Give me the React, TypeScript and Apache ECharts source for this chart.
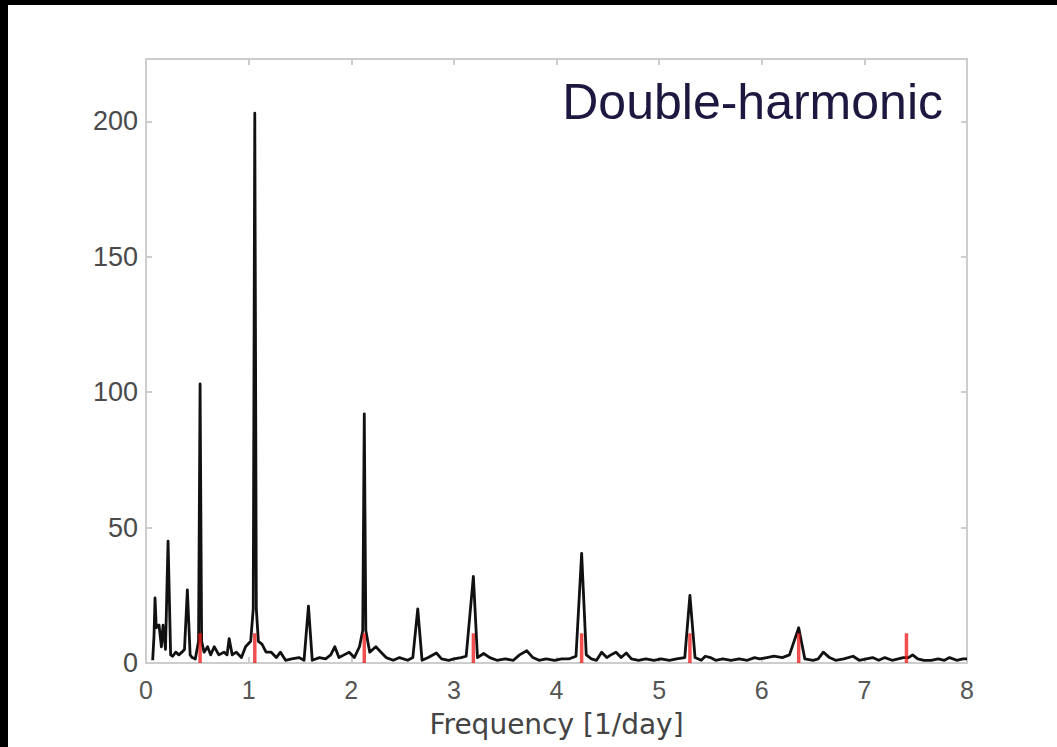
import React, { useEffect, useRef } from "react";
import * as echarts from "echarts";

// Periodogram (frequency in 1/day, power)
const freq: number[] = [
  0.065, 0.078, 0.088, 0.1, 0.127, 0.15, 0.166, 0.19, 0.215, 0.24,
  0.26, 0.29, 0.32, 0.35, 0.375, 0.403, 0.43, 0.45, 0.48, 0.512, 0.527, 0.542,
  0.566, 0.6, 0.63, 0.665, 0.71, 0.76, 0.79, 0.81, 0.84, 0.88, 0.93, 0.97,
  1.02, 1.045, 1.06, 1.075, 1.095, 1.13, 1.17, 1.22, 1.27, 1.31, 1.36, 1.42,
  1.49, 1.54, 1.583, 1.62, 1.69, 1.75, 1.8, 1.84, 1.88, 1.93, 1.98, 2.03,
  2.08, 2.112, 2.127, 2.142, 2.18, 2.24, 2.29, 2.34, 2.41, 2.47, 2.55, 2.6,
  2.648, 2.69, 2.75, 2.83, 2.88, 2.95, 3.0, 3.07, 3.12, 3.19, 3.23, 3.29,
  3.35, 3.42, 3.5, 3.58, 3.64, 3.71, 3.77, 3.83, 3.9, 3.98, 4.05, 4.12,
  4.19, 4.245, 4.29, 4.34, 4.39, 4.44, 4.49, 4.53, 4.58, 4.63, 4.68, 4.73,
  4.8, 4.87, 4.95, 5.02, 5.1, 5.17, 5.25, 5.3, 5.35, 5.41, 5.45, 5.5,
  5.55, 5.62, 5.7, 5.78, 5.86, 5.93, 5.98, 6.05, 6.12, 6.2, 6.27, 6.36,
  6.42, 6.5, 6.55, 6.6, 6.66, 6.72, 6.8, 6.89, 6.95, 7.02, 7.08, 7.14,
  7.2, 7.27, 7.33, 7.38, 7.43, 7.47, 7.52, 7.58, 7.65, 7.72, 7.78, 7.83,
  7.9, 7.96, 8.0,
];
const power: number[] = [
  1, 10, 24, 13, 14, 6, 14, 5, 45, 3,
  2.5, 4, 3, 4, 5, 27, 3, 2, 1.5, 8, 103, 8,
  4, 6, 3, 6, 3, 4, 3, 9, 3, 4, 2, 6,
  8, 20, 203, 20, 8, 7, 4, 4, 2, 4, 1, 1.5,
  2, 1, 21, 1, 2, 1.5, 3, 6, 2, 3, 4, 2,
  6, 12, 92, 12, 4, 6, 4, 2, 1, 2, 1, 2,
  20, 1, 2, 3.7, 1.5, 1, 1.5, 2, 2.5, 32, 2, 3.5,
  2, 1, 1.5, 1, 3, 4.5, 2, 1, 1.5, 1, 1.5, 1.5,
  2.5, 40.5, 3, 1.5, 1, 4, 2, 3, 4, 2, 3.7, 1.5,
  1, 1.5, 1, 1.5, 1, 1.5, 2, 25, 2, 1, 2.5, 2,
  1, 1.5, 1, 1.5, 1, 2, 1.5, 2, 2.5, 2, 3, 13,
  1.5, 1, 1.5, 4, 2, 1, 1.5, 2.5, 1, 1.5, 2, 1,
  2, 1, 1.5, 2, 2, 3, 1.5, 1, 1, 1.5, 1, 2,
  1, 1.5, 1.5,
];

// Harmonic markers (red)
const harmonicFreq: number[] = [0.527, 1.06, 2.127, 3.19, 4.245, 5.3, 6.36, 7.41];
const harmonicHeight: number[] = [11, 11, 11, 11, 11, 11, 11, 11];

const xTicks: number[] = [0, 1, 2, 3, 4, 5, 6, 7, 8];
const yTicks: number[] = [0, 50, 100, 150, 200];

const FONT = "'Liberation Sans', Arial, Helvetica, sans-serif";

export default function App() {
  const ref = useRef<HTMLDivElement>(null);

  useEffect(() => {
    if (!ref.current) return;
    const chart = echarts.init(ref.current, undefined, { renderer: "svg" });

    const lineData = freq.map((f, i) => [f, power[i]]);
    const redData: any[] = [];
    harmonicFreq.forEach((f, i) => {
      redData.push([f, 0]);
      redData.push([f, harmonicHeight[i]]);
      redData.push([f, "-"]);
    });

    const frameColor = "#cdcdcd";
    const frameLine = { show: true, onZero: false, lineStyle: { color: frameColor, width: 2 } };
    const frameTick = { show: true, inside: true, length: 6, lineStyle: { color: frameColor, width: 2 } };

    chart.setOption({
      animation: false,
      backgroundColor: "#ffffff",
      grid: { left: 146, right: 90, top: 59, bottom: 84, containLabel: false },
      xAxis: [
        {
          type: "value",
          min: 0,
          max: 8,
          interval: 1,
          position: "bottom",
          name: "Frequency [1/day]",
          nameLocation: "middle",
          nameGap: 47,
          nameTextStyle: { fontFamily: "'DejaVu Sans', sans-serif", fontSize: 28, color: "#444" },
          axisLine: frameLine,
          axisTick: frameTick,
          axisLabel: {
            margin: 14,
            fontFamily: FONT,
            fontSize: 25,
            color: "#555",
            formatter: (v: number) => (xTicks.includes(v) ? String(v) : ""),
          },
          splitLine: { show: false },
        },
        {
          type: "value",
          min: 0,
          max: 8,
          interval: 1,
          position: "top",
          axisLine: frameLine,
          axisTick: frameTick,
          axisLabel: { show: false },
          splitLine: { show: false },
        },
      ],
      yAxis: [
        {
          type: "value",
          min: 0,
          max: 223,
          interval: 50,
          position: "left",
          axisLine: frameLine,
          axisTick: frameTick,
          axisLabel: {
            margin: 8,
            fontFamily: FONT,
            fontSize: 27,
            color: "#4a4a4a",
            formatter: (v: number) => (yTicks.includes(v) ? String(v) : ""),
          },
          splitLine: { show: false },
        },
        {
          type: "value",
          min: 0,
          max: 223,
          interval: 50,
          position: "right",
          axisLine: frameLine,
          axisTick: frameTick,
          axisLabel: { show: false },
          splitLine: { show: false },
        },
      ],
      series: [
        {
          type: "line",
          data: lineData,
          xAxisIndex: 0,
          yAxisIndex: 0,
          showSymbol: false,
          symbol: "none",
          lineStyle: { color: "#111111", width: 2.8, join: "round" },
          z: 2,
        },
        {
          type: "line",
          data: redData,
          xAxisIndex: 0,
          yAxisIndex: 0,
          showSymbol: false,
          symbol: "none",
          connectNulls: false,
          lineStyle: { color: "rgba(240,20,20,0.75)", width: 3.5, cap: "butt" },
          z: 3,
        },
      ],
      graphic: [
        {
          type: "text",
          x: 943,
          y: 102,
          z: 10,
          style: {
            text: "Double-harmonic",
            fontFamily: FONT,
            fontSize: 50,
            fill: "#1c1840",
            textAlign: "right",
            textVerticalAlign: "middle",
          },
        },
        { type: "rect", z: 20, shape: { x: 0, y: 0, width: 1057, height: 5 }, style: { fill: "#000" } },
        { type: "rect", z: 20, shape: { x: 0, y: 0, width: 8, height: 747 }, style: { fill: "#000" } },
      ],
    });

    return () => chart.dispose();
  }, []);

  return (
    <div
      ref={ref}
      style={{ position: "fixed", left: 0, top: 0, width: 1057, height: 747, background: "#fff" }}
    />
  );
}
